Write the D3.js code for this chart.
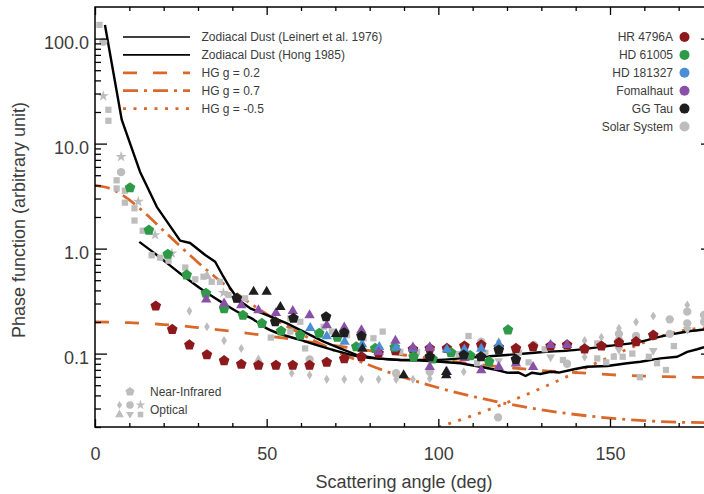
<!DOCTYPE html>
<html>
<head>
<meta charset="utf-8">
<script src="https://cdn.jsdelivr.net/npm/d3@7"></script>
<style>
  html, body { margin: 0; padding: 0; background: #fff; }
  svg { display: block; }
</style>
</head>
<body>
<svg id="chart" width="704" height="494"></svg>
<script>
// ---------------- DATA ----------------
const xTickMajor = [0, 50, 100, 150];
const xTickMinor = [10, 20, 30, 40, 60, 70, 80, 90, 110, 120, 130, 140, 160, 170];
const yTickMajor = [0.1, 1, 10, 100];
const yTickLabels = ["0.1", "1.0", "10.0", "100.0"];
const yTickMinor = [0.02,0.03,0.04,0.05,0.06,0.07,0.08,0.09,0.2,0.3,0.4,0.5,0.6,0.7,0.8,0.9,
                    2,3,4,5,6,7,8,9,20,30,40,50,60,70,80,90];

// Zodiacal dust curves
const leinertAngles = [2.9,7.8,13.1,18.0,24.8,27.7,32.1,35.0,37.4,39.4,41.8,45.2,50.1,55.9,60.7,66.6,71.4,76.3,82.1,88.9,94.0,100.6,106.4,112.2,117.1,120.0,123.4,125.4,127.3,129.7,132.7,135.1,139.5,143.3,149.2,155.0,158.9,164.7,169.6,172.5,175.4,177.4];
const leinertValues = [134.6,16.8,5.40,2.50,1.19,1.13,0.869,0.75,0.54,0.419,0.324,0.27,0.233,0.194,0.162,0.130,0.112,0.097,0.090,0.0869,0.0865,0.0837,0.081,0.075,0.0698,0.0658,0.066,0.0612,0.0658,0.064,0.0672,0.066,0.0709,0.075,0.0762,0.081,0.0837,0.090,0.0934,0.104,0.110,0.115];
const hongAngles = [12.9,18.0,24.8,30.6,37.4,42.3,45.2,50.0,59.8,69.5,77.3,82.0,89.0,98.5,110.3,120.0,129.7,139.5,149.2,158.9,163.8,168.6,173.5,177.4];
const hongValues = [1.16,0.87,0.58,0.419,0.301,0.242,0.22,0.174,0.135,0.108,0.093,0.090,0.0869,0.0869,0.0922,0.097,0.103,0.108,0.118,0.130,0.143,0.154,0.164,0.170];

// Henyey-Greenstein curves
const hgAngles = [0,5,10,15,20,25,30,35,40,50,60,70,80,90,100,110,120,130,140,150,160,170,180];
const hgG02 = [0.200,0.199,0.197,0.194,0.189,0.184,0.177,0.170,0.163,0.148,0.133,0.119,0.107,0.097,0.088,0.080,0.074,0.069,0.066,0.063,0.061,0.060,0.059];
const hgG07 = [4.00,3.67,2.91,2.11,1.48,1.04,0.738,0.537,0.400,0.238,0.154,0.106,0.0775,0.0593,0.0473,0.0391,0.0333,0.0292,0.0263,0.0243,0.0230,0.0222,0.0220];
const hgNegAngles = [100,110,120,130,140,150,160,170,180];
const hgGm05 = [0.0199,0.0257,0.0342,0.0469,0.0659,0.0933,0.128,0.163,0.178];

// Debris disks
const hrAngles = [17.7,22.5,27.5,32.6,37.6,42.6,47.6,52.7,57.6,62.5,67.5,72.6,77.6,82.6,87.5,92.6,97.5,102.5,107.6,112.5,117.6,122.6,127.6,132.7,137.5,142.6,147.5,152.6,157.6,162.6];
const hrValues = [0.284,0.170,0.121,0.0975,0.0856,0.0791,0.0774,0.0774,0.0774,0.0774,0.0826,0.0894,0.0934,0.1007,0.1064,0.1099,0.112,0.112,0.118,0.121,0.115,0.112,0.116,0.118,0.121,0.111,0.118,0.127,0.130,0.150];

const hd61005Angles = [10.2,15.7,21.2,26.7,32.3,37.6,43.1,48.6,54.2,59.8,65.3,70.6,76.1,81.6,87.3,92.8,98.3,103.7,109.3,114.8,120.3];
const hd61005Values = [3.80,1.50,0.883,0.561,0.375,0.268,0.232,0.194,0.164,0.150,0.156,0.143,0.116,0.112,0.115,0.0934,0.0888,0.102,0.0955,0.0838,0.168];

const hd181327Angles = [62.7,67.5,72.7,77.8,82.8,87.7,92.6,97.5,102.5,107.6,112.5,117.6];
const hd181327Values = [0.176,0.147,0.130,0.123,0.116,0.115,0.112,0.115,0.110,0.110,0.112,0.123];

const fomAngles = [32.4,37.6,42.6,47.6,52.7,57.6,62.5,67.5,72.6,77.6,82.6,87.5,92.6,97.5,97.5,102.5,107.6,112.5,117.6,122.6,127.6,132.7,137.5];
const fomValues = [0.329,0.301,0.290,0.260,0.245,0.256,0.233,0.187,0.178,0.168,0.104,0.133,0.115,0.115,0.075,0.0672,0.0914,0.0698,0.075,0.081,0.075,0.121,0.121];

const ggAngles = [46.2,50.0,54.0,41.3,52.5,57.8,70.2,67.3,72.6,77.6,77.9,89.9,97.5,102.3,102.3,107.4,112.4,117.6,122.6];
const ggValues = [0.389,0.389,0.279,0.336,0.201,0.217,0.154,0.224,0.158,0.147,0.112,0.0626,0.0934,0.0672,0.0626,0.097,0.0934,0.108,0.088];
const ggShapes = ["tri","tri","tri","pent","pent","pent","tri","pent","pent","pent","tri","tri","pent","tri","tri","pent","pent","pent","pent"];

// Solar system (grey)
const solAngles = [1.3,2.4,2.4,3.9,3.9,7.6,7.6,6.3,6.3,8.7,8.7,12.6,11.5,11.5,13.9,17.5,16.5,19.0,22.4,21.4,26.3,29.2,31.6,32.6,34.0,36.4,37.4,38.9,41.3,43.7,
  27.5,32.6,37.6,42.6,47.6,57.3,62.5,67.5,72.6,77.6,82.6,87.7,92.6,97.5,102.5,107.4,
  51.2,56.9,56.9,59.8,61.2,66.6,69.0,73.4,78.2,81.1,83.8,88.9,93.8,62.5,87.7,97.5,
  105.9,108.8,111.3,113.7,123.5,126.3,131.0,136.3,146.3,146.3,148.9,151.1,153.7,156.5,158.7,161.3,163.7,166.3,168.6,
  112.5,117.4,127.8,137.5,152.6,152.6,157.6,167.4,167.4,172.5,172.5,177.4,177.4,
  117.6,132.7,152.6,162.6,172.5,
  142.6,142.6,147.5,152.6,157.6,162.6,172.5,122.6,117.6];
const solValues = [135,93,28.4,21,16.5,7.5,5.35,4.47,3.74,3.56,2.74,2.80,2.42,1.85,1.48,1.35,0.864,0.82,0.90,0.767,0.66,0.51,0.54,0.55,0.483,0.483,0.38,0.361,0.324,0.336,
  0.254,0.180,0.133,0.112,0.087,0.065,0.0626,0.0569,0.0569,0.0569,0.0569,0.0569,0.0569,0.058,0.065,0.0672,
  0.142,0.217,0.162,0.201,0.112,0.180,0.162,0.150,0.140,0.140,0.162,0.104,0.104,0.088,0.065,0.0672,
  0.099,0.147,0.081,0.102,0.102,0.0826,0.110,0.0869,0.125,0.090,0.0826,0.0934,0.0934,0.100,0.0595,0.0934,0.081,0.0698,0.118,
  0.130,0.0247,0.121,0.080,0.154,0.135,0.147,0.212,0.154,0.251,0.194,0.233,0.201,
  0.085,0.092,0.108,0.106,0.168,
  0.133,0.093,0.143,0.174,0.200,0.228,0.290,0.108,0.130];
const solShapes = ["sq","circ","star","sq","sq","star","circ","sq","sq","sq","sq","star","sq","sq","sq","star","sq","sq","star","sq","sq","sq","sq","tri","sq","sq","star","sq","sq","sq",
  "dia","dia","dia","dia","tri","dia","dia","dia","dia","dia","dia","dia","dia","dia","dia","dia",
  "sq","sq","sq","sq","sq","sq","sq","sq","sq","sq","sq","sq","sq","circ","circ","circ",
  "sq","sq","sq","sq","sq","sq","sq","sq","sq","sq","sq","sq","sq","sq","sq","sq","sq","sq","sq",
  "circ","circ","circ","circ","circ","circ","circ","circ","circ","circ","circ","circ","circ",
  "tridown","tridown","tridown","tridown","tridown",
  "dia","dia","dia","dia","dia","dia","dia","dia","dia"];

const lineLegend = ["Zodiacal Dust (Leinert et al. 1976)", "Zodiacal Dust (Hong 1985)", "HG g = 0.2", "HG g = 0.7", "HG g = -0.5"];
const objLegend = ["HR 4796A", "HD 61005", "HD 181327", "Fomalhaut", "GG Tau", "Solar System"];

// ---------------- STYLE ----------------
const FONT = "'Liberation Sans', Arial, Helvetica, sans-serif";
const TXT = "#3c3c3c";
const ORANGE = "#d9692b";
const COL = { hr: "#8c1a1c", hd61005: "#2e9a48", hd181327: "#4a8ed6", fom: "#8a50a8", gg: "#1e1e1e", sol: "#bdbdbd" };
const objColors = [COL.hr, COL.hd61005, COL.hd181327, COL.fom, COL.gg, COL.sol];

const svg = d3.select("#chart");
const L = 95, R = 713, T = 7, B = 427;
const x = d3.scaleLinear().domain([0, 180]).range([L, R]);
const y = d3.scaleLog().domain([0.02, 200]).range([B, T]);

svg.append("defs").append("clipPath").attr("id", "clip")
  .append("rect").attr("x", L).attr("y", T).attr("width", R - L).attr("height", B - T);

function symPath(shape, s = 1) {
  const P = pts => "M" + pts.map(p => p[0].toFixed(2) + "," + p[1].toFixed(2)).join("L") + "Z";
  if (shape === "pent") {
    const r = 5.6 * s, pts = [];
    for (let k = 0; k < 5; k++) { const a = -Math.PI / 2 + k * 2 * Math.PI / 5; pts.push([r * Math.cos(a), r * Math.sin(a)]); }
    return P(pts);
  }
  if (shape === "tri") return P([[0, -5.8 * s], [5.2 * s, 3.2 * s], [-5.2 * s, 3.2 * s]]);
  if (shape === "tridown") return P([[0, 5.0 * s], [4.6 * s, -3.0 * s], [-4.6 * s, -3.0 * s]]);
  if (shape === "dia") return P([[0, -4.8 * s], [3.0 * s, 0], [0, 4.8 * s], [-3.0 * s, 0]]);
  if (shape === "sq") { const h = 3.3 * s; return P([[-h, -h], [h, -h], [h, h], [-h, h]]); }
  if (shape === "circ") { const r = 4.4 * s; return `M${r},0A${r},${r} 0 1 1 ${-r},0A${r},${r} 0 1 1 ${r},0Z`; }
  if (shape === "star") return d3.symbol(d3.symbolStar, 42 * s * s)();
  return "";
}

const plot = svg.append("g").attr("clip-path", "url(#clip)");

// ---------------- CURVES ----------------
function drawCurve(angles, values, attrs, curve) {
  const data = angles.map((a, i) => [a, values[i]]);
  const line = d3.line().x(d => x(d[0])).y(d => y(d[1])).curve(curve || d3.curveMonotoneX);
  const p = plot.append("path").datum(data).attr("d", line).attr("fill", "none");
  Object.entries(attrs).forEach(([k, v]) => p.attr(k, v));
}
const hgG02Style = { stroke: ORANGE, "stroke-width": 2.8, "stroke-dasharray": "14,16" };
const hgG07Style = { stroke: ORANGE, "stroke-width": 2.8, "stroke-dasharray": "15,6,3,6" };
const hgGm05Style = { stroke: ORANGE, "stroke-width": 2.8, "stroke-dasharray": "3,7.5" };
const zodiStyle = { stroke: "#000", "stroke-width": 2.4, "stroke-linejoin": "round" };

drawCurve(hgAngles, hgG02, hgG02Style);
drawCurve(hgAngles, hgG07, hgG07Style);
drawCurve(hgNegAngles, hgGm05, hgGm05Style);
drawCurve(leinertAngles, leinertValues, zodiStyle, d3.curveLinear);
drawCurve(hongAngles, hongValues, zodiStyle);

// ---------------- MARKERS ----------------
function drawPoints(angles, values, shapes, color, s) {
  plot.append("g").selectAll("path")
    .data(angles.map((a, i) => ({ a, v: values[i], sh: Array.isArray(shapes) ? shapes[i] : shapes })))
    .join("path")
    .attr("transform", d => `translate(${x(d.a)},${y(d.v)})`)
    .attr("d", d => symPath(d.sh, s || 1))
    .attr("fill", color);
}
drawPoints(solAngles, solValues, solShapes, COL.sol, 0.95);
drawPoints(hrAngles, hrValues, "pent", COL.hr);
drawPoints(hd61005Angles, hd61005Values, "pent", COL.hd61005);
drawPoints(hd181327Angles, hd181327Values, "tri", COL.hd181327);
drawPoints(fomAngles, fomValues, "tri", COL.fom);
drawPoints(ggAngles, ggValues, ggShapes, COL.gg);

// ---------------- AXES ----------------
const axG = svg.append("g").attr("font-family", FONT);
const styleAxis = g => {
  g.select(".domain").remove();
  g.selectAll(".tick line").attr("stroke", "#000").attr("stroke-width", 1.3);
  g.selectAll(".tick text").attr("fill", TXT).attr("font-size", 18).attr("font-family", FONT);
};
// bottom
axG.append("g").attr("transform", `translate(0,${B})`)
  .call(d3.axisBottom(x).tickValues(xTickMajor).tickSize(-8).tickPadding(20).tickFormat(d3.format("d"))).call(styleAxis);
axG.append("g").attr("transform", `translate(0,${B})`)
  .call(d3.axisBottom(x).tickValues(xTickMinor).tickSize(-4).tickFormat("")).call(styleAxis);
// top
axG.append("g").attr("transform", `translate(0,${T})`)
  .call(d3.axisTop(x).tickValues(xTickMajor).tickSize(-8).tickFormat("")).call(styleAxis);
axG.append("g").attr("transform", `translate(0,${T})`)
  .call(d3.axisTop(x).tickValues(xTickMinor).tickSize(-4).tickFormat("")).call(styleAxis);
// left
const yl = axG.append("g").attr("transform", `translate(${L},0)`)
  .call(d3.axisLeft(y).tickValues(yTickMajor).tickSize(-12).tickPadding(6)
    .tickFormat((d, i) => yTickLabels[i])).call(styleAxis);
yl.selectAll(".tick text").attr("dy", "0.54em");
axG.append("g").attr("transform", `translate(${L},0)`)
  .call(d3.axisLeft(y).tickValues(yTickMinor).tickSize(-6).tickFormat("")).call(styleAxis);
// right
axG.append("g").attr("transform", `translate(${R},0)`)
  .call(d3.axisRight(y).tickValues(yTickMajor).tickSize(-12).tickFormat("")).call(styleAxis);
axG.append("g").attr("transform", `translate(${R},0)`)
  .call(d3.axisRight(y).tickValues(yTickMinor).tickSize(-6).tickFormat("")).call(styleAxis);
// frame
svg.append("rect").attr("x", L).attr("y", T).attr("width", R - L).attr("height", B - T)
  .attr("fill", "none").attr("stroke", "#000").attr("stroke-width", 1.5);

// titles
svg.append("text").attr("x", 404).attr("y", 488).attr("text-anchor", "middle")
  .attr("font-family", FONT).attr("font-size", 18).attr("fill", TXT).text("Scattering angle (deg)");
svg.append("text").attr("transform", "translate(25,220) rotate(-90)").attr("text-anchor", "middle")
  .attr("font-family", FONT).attr("font-size", 18).attr("fill", TXT).text("Phase function (arbitrary unit)");

// ---------------- LEGENDS ----------------
const lineStyles = [zodiStyle, zodiStyle, hgG02Style, hgG07Style, hgGm05Style];
const lg = svg.append("g");
lineLegend.forEach((t, i) => {
  const yy = 37 + i * 17.9;
  const ln = lg.append("line").attr("x1", 123).attr("x2", 190).attr("y1", yy).attr("y2", yy);
  Object.entries(lineStyles[i]).forEach(([k, v]) => ln.attr(k, v));
  if (i < 2) ln.attr("stroke-width", 1.6);
  lg.append("text").attr("x", 201.5).attr("y", yy + 4.3).attr("font-family", FONT).attr("font-size", 12)
    .attr("fill", TXT).text(t);
});

const og = svg.append("g");
objLegend.forEach((t, i) => {
  const yy = 37 + i * 17.9;
  og.append("text").attr("x", 673).attr("y", yy + 4.3).attr("text-anchor", "end")
    .attr("font-family", FONT).attr("font-size", 12).attr("fill", TXT).text(t);
  og.append("circle").attr("cx", 684.5).attr("cy", yy).attr("r", 5).attr("fill", objColors[i]);
});

const sg = svg.append("g");
const legShapes = [["pent", 130, 391.7], ["dia", 119.5, 405], ["circ", 130, 405], ["star", 140.5, 405],
                   ["tri", 119.5, 414.5], ["tridown", 130, 414.5], ["sq", 140.5, 414.5]];
legShapes.forEach(d => {
  sg.append("path").attr("transform", `translate(${d[1]},${d[2]})`).attr("d", symPath(d[0], 0.85)).attr("fill", COL.sol);
});
sg.append("text").attr("x", 150).attr("y", 396).attr("font-family", FONT).attr("font-size", 12).attr("fill", TXT).text("Near-Infrared");
sg.append("text").attr("x", 150).attr("y", 414).attr("font-family", FONT).attr("font-size", 12).attr("fill", TXT).text("Optical");
</script>
</body>
</html>
